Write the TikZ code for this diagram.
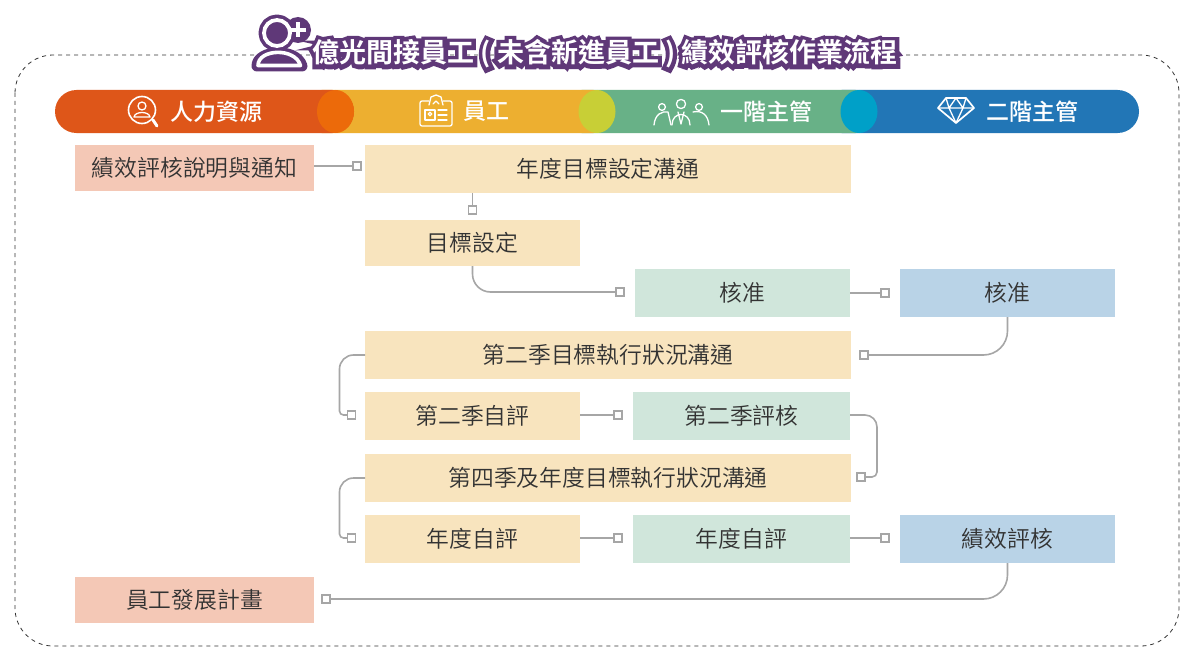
\documentclass[tikz,border=0pt]{standalone}
\usepackage{fontspec}
\setmainfont{Noto Sans CJK TC}
\newfontfamily\titleoutline[FakeBold=30]{Noto Sans CJK TC Bold}
\newfontfamily\titlefont{Noto Sans CJK TC Bold}
\newfontfamily\medfont{Noto Sans CJK TC Medium}
\newfontfamily\bodyfont{Noto Sans CJK TC DemiLight}
\definecolor{hrc}{HTML}{DE5619}
\definecolor{empc}{HTML}{EDAF30}
\definecolor{firstc}{HTML}{68B187}
\definecolor{secondc}{HTML}{2276B6}
\definecolor{ovA}{HTML}{EC6A0A}
\definecolor{ovB}{HTML}{C8CF36}
\definecolor{ovC}{HTML}{00A0C8}
\definecolor{salm}{HTML}{F4C8B6}
\definecolor{sand}{HTML}{F8E4BE}
\definecolor{mint}{HTML}{D0E6DB}
\definecolor{sky}{HTML}{B9D3E7}
\definecolor{link}{HTML}{A6A6A6}
\definecolor{purp}{HTML}{5F3878}
\definecolor{ink}{HTML}{333333}
\tikzset{
 box/.style={inner sep=0pt,outer sep=0pt,text=ink,font=\bodyfont\fontsize{22.8}{24}\selectfont},
 hrbox/.style={box,fill=salm,minimum width=239pt,minimum height=46pt},
 wide/.style={box,fill=sand,minimum width=486pt,minimum height=48pt},
 emp/.style={box,fill=sand,minimum width=215pt,minimum height=46pt},
 mgr/.style={box,fill=mint,minimum width=217pt,minimum height=48pt},
 boss/.style={box,fill=sky,minimum width=215pt,minimum height=48pt},
 endsq/.style={draw=link,fill=white,line width=1.7pt,minimum size=8pt,inner sep=0pt,outer sep=0pt},
 conn/.style={draw=link,line width=1.6pt,rounded corners=18pt},
 connb/.style={draw=link,line width=1.6pt},
 bandtext/.style={text=white,font=\medfont\fontsize{23}{25}\selectfont,inner sep=0pt},
 ic/.style={draw=white,line width=1.3pt,line cap=round,line join=round},
}
\begin{document}
\begin{tikzpicture}[x=1pt,y=-1pt]
\useasboundingbox (0,0) rectangle (1195,669);
\fill[white] (0,0) rectangle (1195,669);
% frame
\draw[ink,line width=0.8pt,dash pattern=on 4pt off 4pt,rounded corners=38pt] (15,55) rectangle (1179,646);
% band
\fill[secondc,rounded corners=21.5pt] (820,90) rectangle (1139,133);
\fill[firstc,rounded corners=21.5pt] (560,90) rectangle (877,133);
\fill[empc,rounded corners=21.5pt] (300,90) rectangle (615,133);
\fill[hrc,rounded corners=21.5pt] (55,90) rectangle (354,133);
\fill[ovA] (335.5,111.5) ellipse [x radius=18.5pt,y radius=21.5pt];
\fill[ovB] (597,111.5) ellipse [x radius=18.5pt,y radius=21.5pt];
\fill[ovC] (859,111.5) ellipse [x radius=18.5pt,y radius=21.5pt];
\node[bandtext] (t1) at (216,111.5) {人力資源};
\node[bandtext] (t2) at (486,111.5) {員工};
\node[bandtext] (t3) at (766,111.5) {一階主管};
\node[bandtext] (t4) at (1032,111.5) {二階主管};
% band icons
\draw[ic,line width=1.6pt] (142,110) circle (13.5pt);
\draw[ic] (142,106) circle (4pt);
\draw[ic] (134,117) .. controls (135,111) and (149,111) .. (150,117) -- cycle;
\draw[ic,line width=3pt] (153,120) -- (157,126);
\draw[ic,rounded corners=2pt] (420,101) rectangle (452,126);
\fill[empc] (429,99) rectangle (443,105);
\draw[ic] (429,105) -- (431,97) -- (436,95) -- (441,97) -- (443,105) (433,104) -- (436,101) -- (439,104);
\draw[ic] (425,110) rectangle (435,120);
\draw[ic] (430,114) circle (1.8pt);
\draw[ic] (438,110) -- (447,110) (438,115) -- (447,115) (438,120) -- (447,120);
\draw[ic] (681,104) circle (4.6pt);
\draw[ic] (662,107) circle (3.4pt);
\draw[ic] (699,107) circle (3.4pt);
\draw[ic] (654,125) .. controls (655,114) and (662,111) .. (668,112) -- (671,125);
\draw[ic] (672,125) .. controls (672,111) and (690,111) .. (690,125);
\draw[ic] (693,112) .. controls (702,110) and (708,115) .. (709,125);
\draw[ic] (678,112) -- (681,124) -- (684,112);
\draw[ic,line width=1.7pt] (946,98) -- (966,98) -- (974,108) -- (956,123) -- (938,108) -- cycle;
\draw[ic] (938,108) -- (974,108) (946,98) -- (949,108) -- (956,123) -- (963,108) -- (966,98) (949,108) -- (956,98) -- (963,108);
% boxes
\node[hrbox] (a) at (194.5,168) {績效評核說明與通知};
\node[wide] (b) at (608,169) {年度目標設定溝通};
\node[emp] (c) at (472.5,243) {目標設定};
\node[mgr,minimum width=215pt] (d) at (742.5,293) {核准};
\node[boss] (e) at (1007.5,293) {核准};
\node[wide] (f) at (608,355) {第二季目標執行狀況溝通};
\node[emp,minimum height=48pt] (g) at (472.5,416) {第二季自評};
\node[mgr] (h) at (741.5,416) {第二季評核};
\node[wide] (i) at (608,478) {第四季及年度目標執行狀況溝通};
\node[emp,minimum height=48pt] (j) at (472.5,539) {年度自評};
\node[mgr] (k) at (741.5,539) {年度自評};
\node[boss] (l) at (1007.5,539) {績效評核};
\node[hrbox] (m) at (194.5,600) {員工發展計畫};
% connector ends
\node[endsq] (sa) at (357,166) {};
\node[endsq] (sb) at (472.5,210) {};
\node[endsq] (sc) at (620,292) {};
\node[endsq] (sd) at (885,293) {};
\node[endsq] (se) at (864,355) {};
\node[endsq] (sf) at (351.5,415) {};
\node[endsq] (sg) at (618,415) {};
\node[endsq] (sh) at (861,477) {};
\node[endsq] (si) at (351.5,538) {};
\node[endsq] (sj) at (618,538) {};
\node[endsq] (sk) at (885,538) {};
\node[endsq] (sl) at (326,599) {};
% connectors
\draw[conn] (a.east |- sa) -- (sa.west);
\draw[conn] (sb |- b.south) -- (sb.north);
\draw[conn] (sb |- c.south) |- (sc.west);
\draw[conn] (d.east |- sd) -- (sd.west);
\draw[conn,rounded corners=24pt] (e.south) |- (se.east);
\draw[connb] (f.west) [rounded corners=14pt] -| (339.5,385) [rounded corners=4pt] |- (sf.west);
\draw[conn] (g.east |- sg) -- (sg.west);
\draw[connb] (h.east |- 0,415) [rounded corners=12pt] -- (877,415) [rounded corners=5pt] |- (sh.east);
\draw[connb] (i.west) [rounded corners=14pt] -| (339.5,510) [rounded corners=4pt] |- (si.west);
\draw[conn] (j.east |- sj) -- (sj.west);
\draw[conn] (k.east |- sk) -- (sk.west);
\draw[conn,rounded corners=24pt] (l.south) |- (sl.east);
% title icon
\draw[purp,fill=purp,line width=11pt,line join=round] (277,33) circle (13pt);
\draw[purp,fill=purp,line width=11pt,line join=round] (257,66) .. controls (257,50) and (296,47) .. (302,66) -- cycle;
\fill[purp] (298,30) circle (13pt);
\draw[white,line width=3.8pt] (277,33) circle (13pt);
\draw[white,line width=3.6pt,line join=round] (258,65.5) .. controls (258,49) and (295,47) .. (300.5,65.5) -- cycle;
\draw[white,line width=3.4pt] (290.5,30) -- (305.5,30) (298,22.5) -- (298,37.5);
\node[inner sep=0pt,text=purp,font=\titleoutline\fontsize{27}{29}\selectfont] (tb) at (605,54) {億光間接員工 ( 未含新進員工 ) 績效評核作業流程};
\node[inner sep=0pt,text=white,font=\titlefont\fontsize{27}{29}\selectfont] (tt) at (605,54) {億光間接員工 ( 未含新進員工 ) 績效評核作業流程};
\end{tikzpicture}
\end{document}
